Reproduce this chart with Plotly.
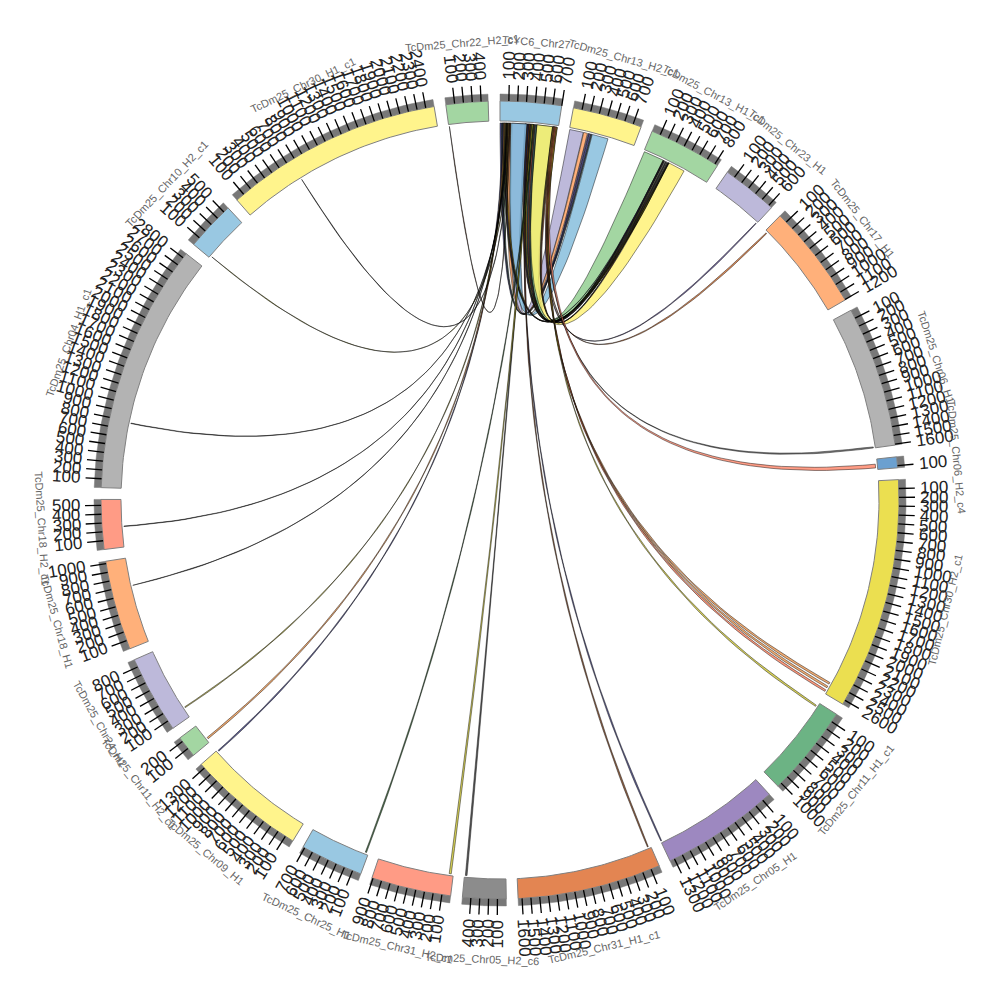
import numpy as np
import plotly.graph_objects as go

# ---- sectors, clockwise from north ----
sector_names = ["TcYC6_Chr27", "TcDm25_Chr13_H2_c1", "TcDm25_Chr13_H1_c1", "TcDm25_Chr23_H1",
                "TcDm25_Chr17_H1", "TcDm25_Chr06_H1", "TcDm25_Chr06_H2_c4", "TcDm25_Chr30_H2_c1",
                "TcDm25_Chr11_H1_c1", "TcDm25_Chr05_H1", "TcDm25_Chr31_H1_c1", "TcDm25_Chr05_H2_c6",
                "TcDm25_Chr31_H2_c1", "TcDm25_Chr25_H1", "TcDm25_Chr09_H1", "TcDm25_Chr11_H2_c1",
                "TcDm25_Chr24_H1", "TcDm25_Chr18_H1", "TcDm25_Chr18_H2_c1", "TcDm25_Chr04_H1_c1",
                "TcDm25_Chr10_H2_c1", "TcDm25_Chr30_H1_c1", "TcDm25_Chr22_H2_c1"]
sector_lengths = [700, 795, 835, 640, 1205, 1610, 125, 2650, 1050, 1355, 1645, 496,
                  913, 720, 1354, 250, 890, 1027, 567, 2858, 567, 2496, 480]
sector_colors = ["#99C8E2", "#FFF48C", "#A3D6A2", "#BDB9DA", "#FFB07A", "#B3B3B3", "#6BA0D0", "#EBDF50",
                 "#6CB384", "#9D88C0", "#E38552", "#8C8C8C", "#FF9B85", "#99C8E2", "#FFF48C", "#A3D6A2",
                 "#BDB9DA", "#FFB07A", "#FF9B85", "#B3B3B3", "#99C8E2", "#FFF48C", "#A3D6A2"]

# ---- links: all from sector 0 to a target sector ----
link_src_start = [146, 88, 300, 0, 20, 130,
                  440, 440,
                  323, 335, 350, 365, 385, 400, 420, 632, 645, 38, 58, 72,
                  660, 675, 640, 652, 635, 648, 661, 674,
                  330, 345, 365, 382, 398, 30, 45, 60, 75, 82, 95, 105, 112, 120]
link_src_width = [170, 45, 20, 20, 20, 195,
                  190, 190,
                  14, 16, 16, 22, 16, 22, 22, 14, 16, 22, 16, 16,
                  14, 14, 14, 30, 12, 12, 12, 10,
                  12, 15, 15, 15, 12, 10, 12, 8, 6, 6, 5, 5, 5, 5]
link_tgt_sector = [1, 1, 1, 1, 1, 1,
                   2, 2,
                   2, 2, 2, 2, 2, 2, 2, 2, 2, 2, 2, 2,
                   3, 4, 5, 6, 7, 7, 7, 8,
                   9, 10, 11, 12, 13, 14, 15, 16, 17, 18, 19, 20, 21, 22]
link_tgt_start = [5, 175, 222, 242, 264, 280,
                  8, 330,
                  252, 260, 268, 276, 284, 292, 300, 308, 316, 324, 250, 320,
                  620, 15, 1590, 60, 2500, 2550, 2600, 30,
                  1335, 20, 465, 25, 25, 1330, 40, 118, 693, 244, 780, 24, 748, 5]
link_tgt_width = [165, 45, 18, 20, 12, 195,
                  244, 205,
                  8, 8, 8, 8, 8, 8, 8, 8, 8, 8, 8, 8,
                  15, 20, 18, 45, 28, 28, 28, 25,
                  18, 20, 20, 25, 15, 15, 20, 12, 6, 6, 6, 6, 6, 6]
link_colors = ["#ACA7D1", "#FF9C59", "#5A4A90", "#2F2F7A", "#1F3F3F", "#7FBADB",
               "#8CCC8B", "#FFF16F",
               "#6A3A1A", "#4A3A7A", "#2A4A2A", "#A89010", "#2A5A7A", "#7A2A1A", "#1A3A3A",
               "#5A5A1A", "#8A4A2A", "#2A4A2A", "#4A3A7A", "#A89010",
               "#5A4A90", "#D87030", "#666666", "#FF8468", "#F09850", "#F09850", "#FF7F5C", "#D0C830",
               "#3A3A7A", "#7A3F1A", "#333333", "#D0C830", "#2A5A2A", "#3A3A7A", "#F09850",
               "#A8A030", "#111111", "#111111", "#111111", "#909020", "#111111", "#5A2A10"]

GAP = 1.7
R_LINK, R_BAND_IN, R_BAND_OUT, R_GREY, R_TICK, R_NUM, R_NAME = 377, 379, 399, 406, 415, 420, 459
deg_per_unit = (360 - GAP * len(sector_lengths)) / sum(sector_lengths)
starts = []
a = 0.0
for L in sector_lengths:
    starts.append(a)
    a += L * deg_per_unit + GAP


def pol(r, t):
    t = np.radians(t)
    return r * np.sin(t), r * np.cos(t)


def ang(i, v):
    return starts[i] + v * deg_per_unit


def arc(r, t0, t1, n=40):
    return pol(r, np.linspace(t0, t1, n))


def band(r0, r1, t0, t1):
    xa, ya = arc(r1, t0, t1)
    xb, yb = arc(r0, t1, t0)
    return list(xa) + list(xb) + [xa[0]], list(ya) + list(yb) + [ya[0]]


def bez(t0, t1, r=R_LINK, n=60):
    x0, y0 = pol(r, t0)
    x1, y1 = pol(r, t1)
    u = np.linspace(0, 1, n)
    return (1 - u) ** 2 * x0 + u ** 2 * x1, (1 - u) ** 2 * y0 + u ** 2 * y1


def rgba(h, al):
    return f"rgba({int(h[1:3], 16)},{int(h[3:5], 16)},{int(h[5:7], 16)},{al})"


fig = go.Figure()

# links
for s0, sw, ti, t0, tw, c in zip(link_src_start, link_src_width, link_tgt_sector, link_tgt_start, link_tgt_width, link_colors):
    a0, a1 = ang(0, s0), ang(0, s0 + sw)
    b0, b1 = ang(ti, t0), ang(ti, t0 + tw)
    xs, ys = [], []
    for seg in (arc(R_LINK, a0, a1, 6), bez(a1, b0), arc(R_LINK, b0, b1, 10), bez(b1, a0)):
        xs += list(seg[0])
        ys += list(seg[1])
    fig.add_trace(go.Scatter(x=xs, y=ys, mode="lines", fill="toself", fillcolor=rgba(c, 0.8),
                             line=dict(color="rgba(0,0,0,0.9)", width=0.5), hoverinfo="skip", showlegend=False))

# sector bands, ticks and labels
annotations = []
tx, ty = [], []
for i, (name, L, col) in enumerate(zip(sector_names, sector_lengths, sector_colors)):
    t0, t1 = ang(i, 0), ang(i, L)
    x, y = band(R_BAND_OUT, R_GREY, t0, t1)
    fig.add_trace(go.Scatter(x=x, y=y, mode="lines", fill="toself", fillcolor="#787878",
                             line=dict(color="#787878", width=0.5), hoverinfo="skip", showlegend=False))
    x, y = band(R_BAND_IN, R_BAND_OUT, t0, t1)
    fig.add_trace(go.Scatter(x=x, y=y, mode="lines", fill="toself", fillcolor=col,
                             line=dict(color="#808080", width=1), hoverinfo="skip", showlegend=False))
    for v in range(100, L + 1, 100):
        th = ang(i, v)
        x0, y0 = pol(R_BAND_OUT, th)
        x1, y1 = pol(R_TICK, th)
        tx += [x0, x1, None]
        ty += [y0, y1, None]
        label = str(v)
        w = len(label) * 0.556 * 17
        cx, cy = pol(R_NUM + w / 2, th)
        rot = th - 90 if th < 180 else th + 90 - 360
        annotations.append(dict(x=cx, y=cy, text=label, textangle=rot, showarrow=False, xanchor="center", yanchor="middle",
                                font=dict(family="Liberation Sans", size=17, color="#222222")))
    mid = (t0 + t1) / 2
    cx, cy = pol(R_NAME, mid)
    rot = mid - 180 if 90 < mid < 270 else (mid if mid <= 90 else mid - 360)
    annotations.append(dict(x=cx, y=cy, text=name, textangle=rot, showarrow=False, xanchor="center", yanchor="middle",
                            font=dict(family="Liberation Sans", size=11, color="#666666")))

fig.add_trace(go.Scatter(x=tx, y=ty, mode="lines", line=dict(color="black", width=1.3), hoverinfo="skip", showlegend=False))

fig.update_layout(width=1000, height=1000, margin=dict(l=0, r=0, t=0, b=0), paper_bgcolor="white", plot_bgcolor="white",
                  showlegend=False, annotations=annotations,
                  xaxis=dict(range=[-500, 500], visible=False, fixedrange=True),
                  yaxis=dict(range=[-500, 500], visible=False, fixedrange=True))
fig.write_html("out.html", post_script="document.body.style.margin='0';document.body.style.overflow='hidden';",
               config={"displayModeBar": False})
